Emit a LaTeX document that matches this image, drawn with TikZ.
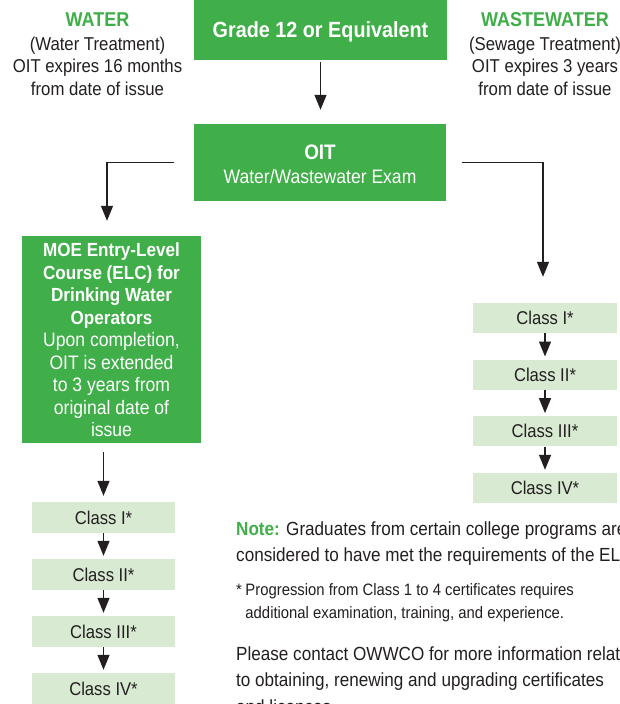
\documentclass[tikz,border=0pt]{standalone}
\usepackage{fontspec}
\setmainfont{Liberation Sans}[FakeStretch=0.9]
\usetikzlibrary{arrows.meta}
\definecolor{ogreen}{HTML}{40AE49}
\definecolor{lgreen}{HTML}{D9EAD3}
\definecolor{ink}{HTML}{231F20}
\newcommand{\fs}[2]{\fontsize{#1}{#2}\selectfont}
\newcommand{\cstack}[1]{\begin{tabular}[t]{@{}c@{}}#1\end{tabular}}
\newcommand{\lstack}[1]{\begin{tabular}[t]{@{}l@{}}#1\end{tabular}}
\tikzset{
  gbox/.style={fill=ogreen, text=white, inner sep=0pt, align=center},
  cbox/.style={fill=lgreen, text=ink, inner sep=0pt, font=\fs{18.5}{22},
               text height=13.2pt, text depth=0pt},
  arr/.style={draw=ink, line width=1.3pt, -{Triangle[width=12pt,length=15pt]}},
  side/.style={text=ink, inner sep=0pt, anchor=base, font=\fs{18.6}{22.5}},
  sidehead/.style={text=ogreen, inner sep=0pt, anchor=base, font=\fs{20}{22.5}\bfseries},
  txt/.style={text=ink, inner sep=0pt, anchor=base west}
}
\begin{document}
\begin{tikzpicture}[x=1pt,y=-1pt]
\useasboundingbox (0,0) rectangle (619,704);
\clip (0,0) rectangle (619,704);
\fill[white] (0,0) rectangle (619,704);

% side texts
\node[sidehead] (water) at (97.5,26) {WATER};
\node[side] (waterd) at (97.5,50) {\cstack{(Water Treatment)\\OIT expires 16 months\\from date of issue}};
\node[sidehead] (waste) at (545,26) {WASTEWATER};
\node[side] (wasted) at (545,50) {\cstack{(Sewage Treatment)\\OIT expires 3 years\\from date of issue}};

% main boxes
\node[gbox, minimum width=253pt, minimum height=60pt, font=\fs{22}{26}\bfseries,
      text height=15.7pt, text depth=0pt] (grade) at (320.5,30) {Grade 12 or Equivalent};
\node[gbox, minimum width=252pt, minimum height=77pt, font=\fs{19.5}{24},
      text height=15pt, text depth=22pt] (oit) at (320,162.5)
      {\cstack{{\fs{21}{24}\bfseries OIT}\\Water/Wastewater Exam}};
\node[gbox, minimum width=179pt, minimum height=207pt, font=\fs{19.5}{22.5},
      text height=13pt, text depth=179pt] (elc) at (111.5,339.5)
      {\cstack{{\bfseries\fs{19}{22.5}MOE Entry-Level}\\{\bfseries\fs{19}{22.5}Course (ELC) for}\\{\bfseries\fs{19}{22.5}Drinking Water}\\{\bfseries\fs{19}{22.5}Operators}\\Upon completion,\\OIT is extended\\to 3 years from\\original date of\\issue}};

% class boxes left
\node[cbox, minimum width=143pt, minimum height=31pt] (l1) at (103.5,517.5) {Class I*};
\node[cbox, minimum width=143pt, minimum height=31pt] (l2) at (103.5,574.5) {Class II*};
\node[cbox, minimum width=143pt, minimum height=31pt] (l3) at (103.5,631.5) {Class III*};
\node[cbox, minimum width=143pt, minimum height=31pt] (l4) at (103.5,688.5) {Class IV*};
% class boxes right
\node[cbox, minimum width=144pt, minimum height=30pt] (r1) at (545,318) {Class I*};
\node[cbox, minimum width=144pt, minimum height=30pt] (r2) at (545,374.7) {Class II*};
\node[cbox, minimum width=144pt, minimum height=30pt] (r3) at (545,431.3) {Class III*};
\node[cbox, minimum width=144pt, minimum height=30pt] (r4) at (545,488) {Class IV*};

% connectors
\draw[arr, shorten <=2pt, shorten >=14pt] (grade.south) -- (grade.south |- oit.north);
\draw[arr] ([xshift=-20pt]oit.west) -| ([xshift=-4.5pt,yshift=15pt]elc.north);
\draw[arr] ([xshift=16pt]oit.east) -| ([xshift=-2pt,yshift=26pt]r1.north);
\draw[arr] ([yshift=-9pt]elc.south -| l1.north) -- ([yshift=6pt]l1.north);
\draw[arr] (l1.south) -- ([yshift=3pt]l2.north);
\draw[arr] (l2.south) -- ([yshift=3pt]l3.north);
\draw[arr] (l3.south) -- ([yshift=3pt]l4.north);
\draw[arr] (r1.south) -- ([yshift=3pt]r2.north);
\draw[arr] (r2.south) -- ([yshift=3pt]r3.north);
\draw[arr] (r3.south) -- ([yshift=3pt]r4.north);

% notes
\node[txt, font=\fs{19}{26.5}] (note) at (236,535)
  {\lstack{{\color{ogreen}\bfseries Note:} Graduates from certain college programs are\\considered to have met the requirements of the ELC.}};
\node[txt, font=\fs{16.5}{23}] (foot) at (236,595)
  {*\hspace{3.5pt}\lstack{Progression from Class 1 to 4 certificates requires\\additional examination, training, and experience.}};
\node[txt, font=\fs{19}{26.5}] (contact) at (236,660)
  {\lstack{Please contact OWWCO for more information related\\to obtaining, renewing and upgrading certificates\\and licences.}};
\end{tikzpicture}
\end{document}
